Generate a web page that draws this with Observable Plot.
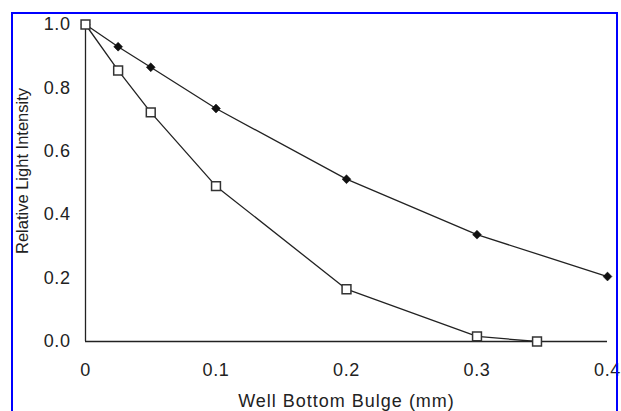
<!DOCTYPE html>
<html>
<head>
<meta charset="utf-8">
<script src="https://cdn.jsdelivr.net/npm/d3@7"></script>
<script src="https://cdn.jsdelivr.net/npm/@observablehq/plot@0.6"></script>
<style>
  html, body { margin: 0; padding: 0; background: #fff; overflow: hidden; width: 621px; height: 411px; }
  #wrap { position: relative; width: 621px; height: 411px; }
  #border { position: absolute; left: 11px; top: 12px; width: 603px; height: 420px; border: 2.5px solid #0000ff; box-sizing: content-box; pointer-events: none; }
</style>
</head>
<body>
<div id="wrap"><div id="border"></div></div>
<script>
// Data
const bulge = [0, 0.025, 0.05, 0.1, 0.2, 0.3, 0.4];
const filledSeries = [1.0, 0.93, 0.865, 0.735, 0.512, 0.337, 0.205];
const openBulge = [0, 0.025, 0.05, 0.1, 0.2, 0.3, 0.346];
const openSeries = [1.0, 0.855, 0.723, 0.49, 0.165, 0.016, 0.0];
const xTicks = [0, 0.1, 0.2, 0.3, 0.4];
const xTickLabels = ["0", "0.1", "0.2", "0.3", "0.4"];
const yTicks = [0, 0.2, 0.4, 0.6, 0.8, 1.0];
const yTickLabels = ["0.0", "0.2", "0.4", "0.6", "0.8", "1.0"];
const xTitle = "Well Bottom Bulge (mm)";
const yTitle = "Relative Light Intensity";

const filled = bulge.map((x, i) => ({x, y: filledSeries[i]}));
const open = openBulge.map((x, i) => ({x, y: openSeries[i]}));

const ink = "#222";

const chart = Plot.plot({
  width: 621,
  height: 411,
  marginLeft: 85,
  marginRight: 14,
  marginTop: 24,
  marginBottom: 70,
  style: {fontFamily: "'Liberation Sans', Arial, sans-serif", background: "transparent", color: ink},
  x: {domain: [0, 0.4]},
  y: {domain: [0, 1]},
  marks: [
    Plot.axisX({ticks: xTicks, tickFormat: (d) => xTickLabels[xTicks.findIndex(t => Math.abs(t - d) < 1e-9)], tickSize: 0, tickPadding: 22, fontSize: 18, label: null, fill: ink}),
    Plot.axisY({ticks: yTicks, tickFormat: (d) => yTickLabels[yTicks.findIndex(t => Math.abs(t - d) < 1e-9)], tickSize: 0, tickPadding: 15, fontSize: 18, label: null, fill: ink}),
    Plot.ruleY([0], {stroke: ink, strokeWidth: 1.3}),
    Plot.ruleX([0], {stroke: ink, strokeWidth: 1.3}),
    Plot.line(filled, {x: "x", y: "y", stroke: ink, strokeWidth: 1.3}),
    Plot.line(open, {x: "x", y: "y", stroke: ink, strokeWidth: 1.3}),
    Plot.dot(filled, {x: "x", y: "y", symbol: "diamond2", r: 4, fill: "#111", stroke: "#111", strokeWidth: 0.5}),
    Plot.dot(open, {x: "x", y: "y", symbol: "square", r: 5, fill: "#fff", stroke: "#333", strokeWidth: 1.5}),
    Plot.text([xTitle], {frameAnchor: "bottom", textAnchor: "middle", dy: 60, lineAnchor: "middle", fontSize: 18, fill: ink}),
    Plot.text([yTitle], {frameAnchor: "left", textAnchor: "middle", dx: -63, dy: -12, rotate: -90, lineAnchor: "middle", fontSize: 16.5, fill: ink})
  ]
});
chart.style.position = "absolute";
chart.style.left = "0px";
chart.style.top = "0px";
// letter spacing to match the slightly wide lettering of the reference
d3.select(chart).selectAll("g[aria-label='x-axis tick label'] text, g[aria-label='y-axis tick label'] text").style("letter-spacing", "0.6px");
d3.select(chart).selectAll("g[aria-label='text'] text").filter(function() { return this.textContent === xTitle; }).style("letter-spacing", "1px");
document.getElementById("wrap").prepend(chart);
</script>
</body>
</html>
